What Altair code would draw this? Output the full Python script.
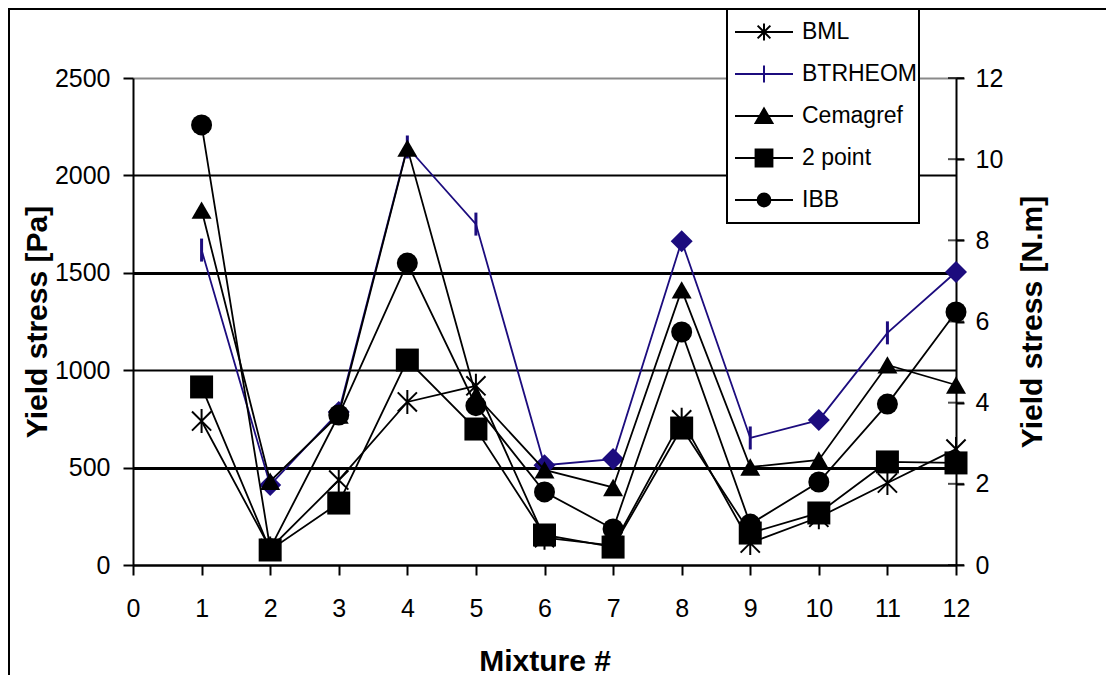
import altair as alt
import pandas as pd

# ---------------- data ----------------
mixtures = list(range(1, 13))
series_names = ["BML", "BTRHEOM", "Cemagref", "2 point", "IBB"]

bml = [739, 85, 436, 837, 920, 140, 100, 745, 113, 245, 421, 595]
cemagref = [1822, 430, 770, 2140, 870, 488, 398, 1412, 503, 539, 1027, 924]
two_point = [914, 77, 318, 1052, 698, 154, 92, 703, 164, 267, 529, 524]
ibb = [2259, 85, 770, 1550, 818, 375, 185, 1196, 210, 426, 826, 1299]

# BTRHEOM on the secondary axis, in N.m
btrheom_nm = [7.76, 1.97, 3.77, 10.3, 8.40, 2.46, 2.61, 7.98, 3.13, 3.57, 5.72, 7.22]
btr_marker = ["tick", "diamond", "diamond", "tick", "tick", "diamond",
              "diamond", "diamond", "tick", "diamond", "tick", "diamond"]

x_ticks = list(range(0, 13))
left_ticks = [0, 500, 1000, 1500, 2000, 2500]
right_ticks = [0, 2, 4, 6, 8, 10, 12]

# ---------------- tables ----------------
left_series = ["BML", "Cemagref", "2 point", "IBB"]
left_values = [bml, cemagref, two_point, ibb]
left_df = pd.DataFrame({
    "mixture": mixtures * len(left_series),
    "series": [s for s in left_series for _ in mixtures],
    "pa": [v for vals in left_values for v in vals],
})
btr_df = pd.DataFrame({"mixture": mixtures, "nm": btrheom_nm, "marker": btr_marker})
legend_df = pd.DataFrame({"series": series_names,
                          "mixture": [1] * len(series_names),
                          "pa": [0] * len(series_names)})
rt_df = pd.DataFrame({"nm": right_ticks, "mixture": [12] * len(right_ticks)})
frame_df = pd.DataFrame({"k": [0]})

NAVY = "#1c0c7e"
FONT = "Liberation Sans"

# ---------------- encodings ----------------
x_enc = alt.X(
    "mixture:Q",
    scale=alt.Scale(domain=[0, 12], nice=False, zero=True),
    axis=alt.Axis(
        values=x_ticks, title="Mixture #", format="d",
        titleFont=FONT, titleFontSize=30, titleFontWeight="bold", titleColor="black",
        titleY=96, titleBaseline="middle",
        labelFont=FONT, labelFontSize=25, labelColor="black", labelPadding=21,
        labelFlush=False, labelOverlap=False,
        tickSize=10, tickWidth=2, tickColor="black",
        domainColor="black", domainWidth=2, grid=False,
    ),
)

y_left = alt.Y(
    "pa:Q",
    scale=alt.Scale(domain=[0, 2500], nice=False),
    axis=alt.Axis(
        orient="left", values=left_ticks, title="Yield stress [Pa]", format="d",
        titleFont=FONT, titleFontSize=30, titleFontWeight="bold", titleColor="black",
        titleAngle=270, titleX=-96, titleY=243.5, titleAlign="center", titleBaseline="middle",
        labelFont=FONT, labelFontSize=25, labelColor="black", labelPadding=13,
        labelOverlap=False, labelFlush=False,
        tickSize=10, tickWidth=2, tickColor="black",
        domainColor="black", domainWidth=2,
        grid=True,
        gridColor={"condition": {"test": "datum.value === 2500", "value": "#8a8a8a"}, "value": "black"},
        gridWidth={"condition": {"test": "datum.value === 1500 || datum.value === 500", "value": 3},
                   "value": 2},
    ),
)

y_right = alt.Y(
    "nm:Q",
    scale=alt.Scale(domain=[0, 12], nice=False),
    axis=alt.Axis(
        orient="right", values=right_ticks, title="Yield stress [N.m]", format="d",
        titleFont=FONT, titleFontSize=30, titleFontWeight="bold", titleColor="black",
        titleAngle=270, titleX=76, titleY=243.5, titleAlign="center", titleBaseline="middle",
        labelFont=FONT, labelFontSize=25, labelColor="black", labelPadding=11,
        labelOverlap=False, labelFlush=False,
        tickSize=8, tickWidth=2, tickColor="black",
        domainColor="black", domainWidth=2, grid=False,
    ),
)

# ---------------- legend (custom line+marker symbols) ----------------
legend_paths = [
    "M-1,0H1M-0.22,-0.22L0.22,0.22M-0.22,0.22L0.22,-0.22M0,-0.29V0.29",
    "M-1,0H1M0,-0.29V0.29",
    "M-1,0H1M0,-0.26L0.29,0.24L-0.29,0.24Z",
    "M-1,0H1M-0.29,-0.29H0.29V0.29H-0.29Z",
    "M-1,0H1M0.22,0A0.22,0.22 0 1 1 -0.22,0A0.22,0.22 0 1 1 0.22,0Z",
]
legend_colors = ["black", NAVY, "black", "black", "black"]

leg = alt.Legend(
    title=None, orient="none", legendX=594, legendY=-69,
    symbolSize=3364, symbolStrokeWidth=2, symbolOffset=5,
    labelFont=FONT, labelFontSize=23, labelColor="black", labelOffset=8,
    clipHeight=42, rowPadding=0, padding=2,
    strokeColor="black", fillColor="white",
)

legend_scale_c = alt.Scale(domain=series_names, range=legend_colors)
# the legend's entries come from the explicit scale domains; the layer itself draws nothing
legend_layer = alt.Chart(legend_df).transform_filter("false").mark_point(filled=True, opacity=1).encode(
    x=x_enc, y=y_left,
    color=alt.Color("series:N", scale=legend_scale_c, legend=leg),
    stroke=alt.Stroke("series:N", scale=legend_scale_c, legend=leg),
    shape=alt.Shape("series:N", scale=alt.Scale(domain=series_names, range=legend_paths), legend=leg),
)

# ---------------- left-axis series ----------------
marker_style = {
    "BML": dict(shape="M-0.8,-0.8L0.8,0.8M-0.8,0.8L0.8,-0.8M0,-1V1", size=576, filled=False, strokeWidth=2),
    "Cemagref": dict(shape="triangle-up", size=400, filled=True),
    "2 point": dict(shape="square", size=529, filled=True),
    "IBB": dict(shape="circle", size=441, filled=True),
}

left_layers = [legend_layer]
for s in left_series:
    base = alt.Chart(left_df).transform_filter(alt.datum.series == s)
    left_layers.append(base.mark_line(color="black", strokeWidth=1.8).encode(x=x_enc, y=y_left))
    left_layers.append(base.mark_point(color="black", opacity=1, **marker_style[s]).encode(x=x_enc, y=y_left))

left_group = alt.layer(*left_layers)

# ---------------- right-axis series ----------------
frame = alt.Chart(frame_df).mark_rect(fillOpacity=0, stroke="black", strokeWidth=2).encode(
    x=alt.value(-124), x2=alt.value(1100), y=alt.value(-69), y2=alt.value(700)
)
btr_line = alt.Chart(btr_df).mark_line(color=NAVY, strokeWidth=1.8).encode(x=x_enc, y=y_right)
btr_ticks = alt.Chart(btr_df).transform_filter(alt.datum.marker == "tick").mark_point(
    shape="M0,-1V1", size=529, strokeWidth=3, color=NAVY, filled=False, opacity=1
).encode(x=x_enc, y=y_right)
btr_diamonds = alt.Chart(btr_df).transform_filter(alt.datum.marker == "diamond").mark_point(
    shape="diamond", size=484, color=NAVY, filled=True, opacity=1
).encode(x=x_enc, y=y_right)
cross_ticks = alt.Chart(rt_df).mark_tick(orient="horizontal", size=16, thickness=2, color="black").encode(
    x=x_enc, y=y_right
)

right_group = alt.layer(frame, btr_line, btr_ticks, btr_diamonds, cross_ticks)

chart = alt.layer(right_group, left_group).resolve_scale(y="independent").properties(
    width=823, height=487,
    autosize=alt.AutoSizeParams(type="none"),
    padding={"left": 125, "top": 70, "right": 150, "bottom": 110},
).configure_view(strokeWidth=0).configure_legend(strokeWidth=2)

chart.save("out.html", embed_options={"renderer": "svg", "actions": False})
